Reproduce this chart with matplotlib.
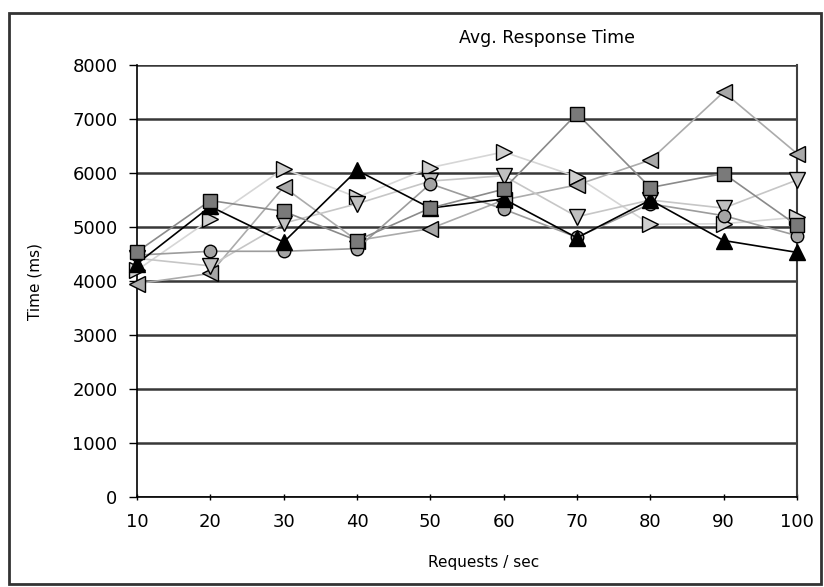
import matplotlib
matplotlib.use("Agg")
import matplotlib.pyplot as plt
from matplotlib.patches import Rectangle

# Data
requests = [10, 20, 30, 40, 50, 60, 70, 80, 90, 100]
series_black_tri = [4320, 5380, 4720, 6050, 5350, 5520, 4800, 5500, 4750, 4530]
series_square = [4540, 5490, 5290, 4750, 5350, 5700, 7100, 5730, 5990, 5030]
series_circle = [4480, 4550, 4550, 4600, 5800, 5330, 4810, 5430, 5210, 4840]
series_down = [4420, 4280, 5070, 5430, 5850, 5950, 5190, 5500, 5350, 5870]
series_left = [3950, 4140, 5740, 4750, 4970, 5500, 5780, 6240, 7500, 6360]
series_right = [4200, 5140, 6080, 5550, 6100, 6390, 5930, 5050, 5060, 5180]
y_ticks = [0, 1000, 2000, 3000, 4000, 5000, 6000, 7000, 8000]
title = "Avg. Response Time"
x_label = "Requests / sec"
y_label = "Time (ms)"

W, H = 824, 587
fig = plt.figure(figsize=(W / 100, H / 100), dpi=100)
ax = fig.add_axes([137 / W, 1 - 497 / H, (797 - 137) / W, (497 - 65) / H])

styles = [
    # (data, marker, line color, face color, size, z)
    (series_right, '>', '#d6d6d6', '#d0d0d0', 11, 3),
    (series_left, '<', '#ababab', '#a8a8a8', 11, 4),
    (series_down, 'v', '#c6c6c6', '#c0c0c0', 11, 5),
    (series_circle, 'o', '#9c9c9c', '#a4a4a4', 9, 6),
    (series_black_tri, '^', '#000000', '#000000', 11, 7),
    (series_square, 's', '#8a8a8a', '#7a7a7a', 9.5, 8),
]
for data, mk, lc, fc, ms, z in styles:
    ax.plot(requests, data, color=lc, lw=1.2, marker=mk, markersize=ms,
            markerfacecolor=fc, markeredgecolor='black', markeredgewidth=1.0,
            zorder=z, clip_on=False)

ax.set_xlim(10, 100)
ax.set_ylim(0, 8000)
ax.set_xticks(requests)
ax.set_yticks(y_ticks)
ax.yaxis.grid(True, color='#383838', lw=1.8, zorder=1)
ax.set_axisbelow(True)
ax.spines['top'].set_visible(False)
ax.spines['left'].set_color('black')
ax.spines['bottom'].set_color('black')
ax.spines['right'].set_color('#404040')
ax.spines['left'].set_linewidth(1.2)
ax.spines['bottom'].set_linewidth(1.2)
ax.spines['right'].set_linewidth(1.5)
ax.tick_params(axis='y', length=6, width=1, pad=8, labelsize=13, direction='out')
ax.tick_params(axis='x', length=5, width=1, pad=9, labelsize=13, direction='inout')

fig.text(547 / W, 1 - 38 / H, title, ha='center', va='center', fontsize=12.5)
fig.text(484 / W, 1 - 563 / H, x_label, ha='center', va='center', fontsize=11)
fig.text(35 / W, 1 - 281 / H, y_label, ha='center', va='center', fontsize=11, rotation=90)

fig.patches.append(Rectangle((9 / W, 1 - 584 / H), (821 - 9) / W, (584 - 13) / H,
                             transform=fig.transFigure, fill=False,
                             edgecolor='#333333', lw=2))

fig.savefig("out.png", dpi=100)
